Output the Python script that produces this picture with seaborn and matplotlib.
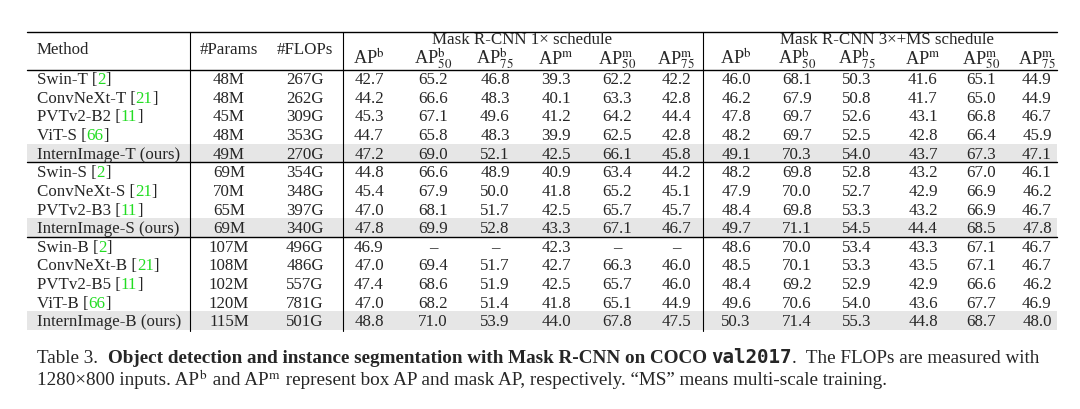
import matplotlib.pyplot as plt
import seaborn as sns

methods = ["Swin-T", "ConvNeXt-T", "PVTv2-B2", "ViT-S", "InternImage-T (ours)",
           "Swin-S", "ConvNeXt-S", "PVTv2-B3", "InternImage-S (ours)",
           "Swin-B", "ConvNeXt-B", "PVTv2-B5", "ViT-B", "InternImage-B (ours)"]
refs = ["2", "21", "11", "66", None, "2", "21", "11", None, "2", "21", "11", "66", None]
params = ["48M", "48M", "45M", "48M", "49M", "69M", "70M", "65M", "69M",
          "107M", "108M", "102M", "120M", "115M"]
flops = ["267G", "262G", "309G", "353G", "270G", "354G", "348G", "397G", "340G",
         "496G", "486G", "557G", "781G", "501G"]
sched_1x = [
    ["42.7", "65.2", "46.8", "39.3", "62.2", "42.2"],
    ["44.2", "66.6", "48.3", "40.1", "63.3", "42.8"],
    ["45.3", "67.1", "49.6", "41.2", "64.2", "44.4"],
    ["44.7", "65.8", "48.3", "39.9", "62.5", "42.8"],
    ["47.2", "69.0", "52.1", "42.5", "66.1", "45.8"],
    ["44.8", "66.6", "48.9", "40.9", "63.4", "44.2"],
    ["45.4", "67.9", "50.0", "41.8", "65.2", "45.1"],
    ["47.0", "68.1", "51.7", "42.5", "65.7", "45.7"],
    ["47.8", "69.9", "52.8", "43.3", "67.1", "46.7"],
    ["46.9", "–", "–", "42.3", "–", "–"],
    ["47.0", "69.4", "51.7", "42.7", "66.3", "46.0"],
    ["47.4", "68.6", "51.9", "42.5", "65.7", "46.0"],
    ["47.0", "68.2", "51.4", "41.8", "65.1", "44.9"],
    ["48.8", "71.0", "53.9", "44.0", "67.8", "47.5"],
]
sched_3x = [
    ["46.0", "68.1", "50.3", "41.6", "65.1", "44.9"],
    ["46.2", "67.9", "50.8", "41.7", "65.0", "44.9"],
    ["47.8", "69.7", "52.6", "43.1", "66.8", "46.7"],
    ["48.2", "69.7", "52.5", "42.8", "66.4", "45.9"],
    ["49.1", "70.3", "54.0", "43.7", "67.3", "47.1"],
    ["48.2", "69.8", "52.8", "43.2", "67.0", "46.1"],
    ["47.9", "70.0", "52.7", "42.9", "66.9", "46.2"],
    ["48.4", "69.8", "53.3", "43.2", "66.9", "46.7"],
    ["49.7", "71.1", "54.5", "44.4", "68.5", "47.8"],
    ["48.6", "70.0", "53.4", "43.3", "67.1", "46.7"],
    ["48.5", "70.1", "53.3", "43.5", "67.1", "46.7"],
    ["48.4", "69.2", "52.9", "42.9", "66.6", "46.2"],
    ["49.6", "70.6", "54.0", "43.6", "67.7", "46.9"],
    ["50.3", "71.4", "55.3", "44.8", "68.7", "48.0"],
]
metric_labels = [r"AP$^\mathrm{b}$", r"AP$^\mathrm{b}_{50}$", r"AP$^\mathrm{b}_{75}$",
                 r"AP$^\mathrm{m}$", r"AP$^\mathrm{m}_{50}$", r"AP$^\mathrm{m}_{75}$"]
highlight = [4, 8, 13]
group_breaks = [4, 8]

sns.set_theme(style="white")
plt.rcParams["font.family"] = ["Liberation Serif", "DejaVu Serif"]
plt.rcParams["mathtext.fontset"] = "stix"

W, H = 1080, 409
fig = plt.figure(figsize=(W / 100, H / 100), dpi=100)
fig.patch.set_facecolor("white")
ax = fig.add_axes([0, 0, 1, 1])
ax.set_xlim(0, W)
ax.set_ylim(H, 0)
ax.axis("off")
FS = 12.2
renderer = fig.canvas.get_renderer()


def seq(x, y, pieces, fs=FS):
    # draw text pieces one after another on the same baseline
    for txt, kw in pieces:
        t = ax.text(x, y, txt, fontsize=fs, va="baseline", ha="left", **kw)
        bb = t.get_window_extent(renderer=renderer)
        x += bb.width


row_y0, row_dy = 78, 18.65
col_1x = [369, 433, 495, 556, 617, 676]
col_3x = [736, 797, 857, 923, 981, 1037]
green = "#22dd22"

for i in highlight:
    yc = row_y0 + i * row_dy
    ax.add_patch(plt.Rectangle((27, yc - 9), 1030, 18.5, color="#e6e6e6", lw=0))

for i in range(len(methods)):
    yb = row_y0 + i * row_dy + 6
    if refs[i]:
        seq(37, yb, [(methods[i] + " [", {}), (refs[i], {"color": green}), ("]", {})])
    else:
        seq(37, yb, [(methods[i], {})])
    ax.text(229, yb, params[i], fontsize=FS, ha="center", va="baseline")
    ax.text(305, yb, flops[i], fontsize=FS, ha="center", va="baseline")
    for xs, vals in ((col_1x, sched_1x[i]), (col_3x, sched_3x[i])):
        for x, v in zip(xs, vals):
            ax.text(x, yb, v, fontsize=FS, ha="center", va="baseline")

# header
ax.text(37, 54, "Method", fontsize=FS, va="baseline")
ax.text(229, 54, "#Params", fontsize=FS, ha="center", va="baseline")
ax.text(305, 54, "#FLOPs", fontsize=FS, ha="center", va="baseline")
ax.text(522, 44, "Mask R-CNN 1× schedule", fontsize=FS, ha="center", va="baseline")
ax.text(887, 44, "Mask R-CNN 3×+MS schedule", fontsize=FS, ha="center", va="baseline")
for xs in (col_1x, col_3x):
    for x, lab in zip(xs, metric_labels):
        ax.text(x, 64, lab, fontsize=FS + 1, ha="center", va="baseline")

# rules
ax.plot([27, 1057], [32, 32], color="black", lw=1)
ax.plot([27, 1057], [70, 70], color="black", lw=1)
for g in group_breaks:
    yl = row_y0 + (g + 0.5) * row_dy
    ax.plot([27, 1057], [yl, yl], color="black", lw=1)
for xv in (190, 343, 703):
    ax.plot([xv, xv], [32, 331], color="black", lw=0.8)

# caption
seq(37, 363, [("Table 3.  ", {}),
              ("Object detection and instance segmentation with Mask R-CNN on COCO ", {"fontweight": "bold"}),
              ("val2017", {"family": "DejaVu Sans Mono", "fontweight": "bold"}),
              (".  The FLOPs are measured with", {})], fs=13.8)
seq(37, 385, [("1280×800 inputs. AP", {}), (r"$^\mathrm{b}$", {}), (" and AP", {}),
              (r"$^\mathrm{m}$", {}),
              (" represent box AP and mask AP, respectively. “MS” means multi-scale training.", {})],
    fs=13.8)

fig.savefig("out.png", dpi=100)
